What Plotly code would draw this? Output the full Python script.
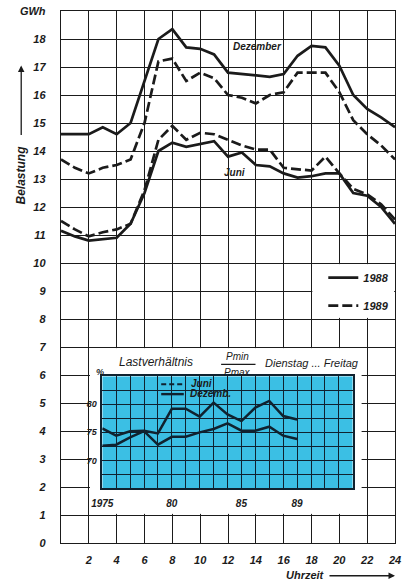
import plotly.graph_objects as go

# ---------------- data ----------------
hours = list(range(0, 25))
dez_1988 = [14.6, 14.6, 14.6, 14.85, 14.6, 15.0, 16.5, 18.0, 18.35, 17.7, 17.65, 17.45, 16.8,
            16.75, 16.7, 16.65, 16.75, 17.4, 17.75, 17.7, 17.05, 16.0, 15.5, 15.2, 14.85]
dez_1989 = [13.7, 13.4, 13.2, 13.4, 13.5, 13.7, 15.0, 17.2, 17.3, 16.5, 16.8, 16.6, 16.0,
            15.9, 15.7, 16.0, 16.1, 16.8, 16.8, 16.8, 16.1, 15.1, 14.6, 14.2, 13.7]
juni_1988 = [11.15, 10.95, 10.8, 10.85, 10.9, 11.4, 12.5, 14.0, 14.3, 14.15, 14.25, 14.35, 13.8,
             13.95, 13.5, 13.45, 13.2, 13.05, 13.1, 13.2, 13.2, 12.5, 12.4, 12.0, 11.4]
juni_1989 = [11.5, 11.2, 10.95, 11.1, 11.2, 11.4, 12.6, 14.4, 14.9, 14.4, 14.65, 14.6, 14.4,
             14.2, 14.05, 14.05, 13.4, 13.35, 13.3, 13.8, 13.2, 12.65, 12.45, 12.1, 11.55]

x_tickvals = list(range(2, 25, 2))
x_ticktext = [str(v) for v in x_tickvals]
y_tickvals = list(range(0, 20))
y_ticktext = [str(v) for v in range(0, 19)] + ["GWh"]

years = list(range(1975, 1990))
ratio_dez = [75.7, 74.4, 75.2, 75.3, 74.8, 79.2, 79.2, 77.8, 80.3, 78.2, 77.0, 79.4, 80.6, 77.9, 77.3]
ratio_juni = [72.6, 72.8, 74.1, 75.2, 72.8, 74.2, 74.2, 75.0, 75.6, 76.6, 75.3, 75.3, 76.0, 74.4, 73.8]

inset_xvals = list(range(1975, 1994))
inset_xtext = ["1975" if v == 1975 else ("80" if v == 1980 else ("85" if v == 1985 else ("89" if v == 1989 else ""))) for v in inset_xvals]
inset_yvals = [65 + 2.5 * i for i in range(9)]
inset_ytext = ["70" if v == 70 else ("75" if v == 75 else ("80" if v == 80 else "")) for v in inset_yvals]

# ---------------- geometry helpers ----------------
W, H = 406, 581
ML, MR, MT, MB = 61, 5, 7, 38
PW = W - ML - MR
PH = H - MT - MB


def px(xp):
    return (xp - ML) / PW


def py(yp):
    return (H - MB - yp) / PH


INK = "#1b1b1b"
CYAN = "#3bbfe4"
IGRID = "#10222f"
FAM = "Liberation Sans"
TF = dict(family=FAM, size=11, color=INK, style="italic", weight="bold")

fig = go.Figure()

# main curves
fig.add_trace(go.Scatter(x=hours, y=dez_1988, mode="lines", name="1988", legendgroup="a",
                         line=dict(color=INK, width=2.7)))
fig.add_trace(go.Scatter(x=hours, y=dez_1989, mode="lines", name="1989", legendgroup="b",
                         line=dict(color=INK, width=2.7, dash="10px,4px")))
fig.add_trace(go.Scatter(x=hours, y=juni_1988, mode="lines", showlegend=False, legendgroup="a",
                         line=dict(color=INK, width=2.7)))
fig.add_trace(go.Scatter(x=hours, y=juni_1989, mode="lines", showlegend=False, legendgroup="b",
                         line=dict(color=INK, width=2.7, dash="10px,4px")))

# empty traces to create cover subplots
fig.add_trace(go.Scatter(x=[], y=[], xaxis="x2", yaxis="y2", showlegend=False, hoverinfo="skip"))
fig.add_trace(go.Scatter(x=[], y=[], xaxis="x4", yaxis="y4", showlegend=False, hoverinfo="skip"))

# inset curves
fig.add_trace(go.Scatter(x=years, y=ratio_juni, mode="lines", xaxis="x3", yaxis="y3", showlegend=False,
                         line=dict(color=IGRID, width=2.5)))
fig.add_trace(go.Scatter(x=years, y=ratio_dez, mode="lines", xaxis="x3", yaxis="y3", showlegend=False,
                         line=dict(color=IGRID, width=2.5)))

blank_axis = dict(showgrid=False, showticklabels=False, zeroline=False, showline=False,
                  ticks="", range=[0, 1], fixedrange=True)

fig.update_layout(
    width=W, height=H,
    margin=dict(l=ML, r=MR, t=MT, b=MB, pad=0),
    paper_bgcolor="white", plot_bgcolor="white",
    xaxis=dict(domain=[0, 1], range=[0, 24], tickvals=x_tickvals, ticktext=x_ticktext,
               showgrid=True, gridcolor=INK, gridwidth=1.1, zeroline=False,
               showline=True, mirror=True, linecolor=INK, linewidth=1.4,
               ticks="", ticklabelstandoff=7, ticklabeloverflow="allow", tickfont=TF),
    yaxis=dict(domain=[0, 1], range=[0, 19], tickvals=y_tickvals, ticktext=y_ticktext,
               showgrid=True, gridcolor=INK, gridwidth=1.1, zeroline=False,
               showline=True, mirror=True, linecolor=INK, linewidth=1.4,
               ticks="", ticklabelstandoff=12, ticklabeloverflow="allow", tickfont=TF),
    xaxis2=dict(domain=[px(90.5), px(367)], anchor="y2", **blank_axis),
    yaxis2=dict(domain=[1.04 / 19, 6.96 / 19], anchor="x2", **blank_axis),
    xaxis4=dict(domain=[18.06 / 24, 23.94 / 24], anchor="y4", **blank_axis),
    yaxis4=dict(domain=[8.04 / 19, 9.96 / 19], anchor="x4", **blank_axis),
    xaxis3=dict(domain=[px(103), px(358)], anchor="y3", range=[1975, 1993],
                tickvals=inset_xvals, ticktext=inset_xtext,
                showgrid=True, gridcolor=IGRID, gridwidth=1.4, zeroline=False,
                showline=True, mirror=True, linecolor=IGRID, linewidth=1.5,
                ticks="", ticklabelstandoff=5,
                tickfont=dict(family=FAM, size=10, color=INK, style="italic", weight="bold")),
    yaxis3=dict(domain=[py(488), py(375)], anchor="x3", range=[65, 85],
                tickvals=inset_yvals, ticktext=inset_ytext,
                showgrid=True, gridcolor=IGRID, gridwidth=1.4, zeroline=False,
                showline=True, mirror=True, linecolor=IGRID, linewidth=1.5,
                ticks="", ticklabelstandoff=2,
                tickfont=dict(family=FAM, size=9, color=INK, style="italic", weight="bold")),
    legend=dict(x=px(328), xanchor="left", y=py(261), yanchor="top",
                bgcolor="rgba(0,0,0,0)", traceorder="grouped", tracegroupgap=9,
                font=dict(family=FAM, size=11, color=INK, style="italic", weight="bold")),
    showlegend=True,
)

# cyan background of the inset
fig.add_shape(type="rect", xref="x3", yref="y3", x0=1975, x1=1993, y0=65, y1=85,
              fillcolor=CYAN, line_width=0, layer="below")

# fraction bar Pmin/Pmax
fig.add_shape(type="line", xref="paper", yref="paper", x0=px(224), x1=px(259), y0=py(363), y1=py(363),
              line=dict(color=INK, width=1.3), layer="above")
# inset legend keys
fig.add_shape(type="line", xref="paper", yref="paper", x0=px(163), x1=px(186), y0=py(383), y1=py(383),
              line=dict(color=IGRID, width=2, dash="5px,3px"), layer="above")
fig.add_shape(type="line", xref="paper", yref="paper", x0=px(163), x1=px(186), y0=py(393), y1=py(393),
              line=dict(color=IGRID, width=2.4), layer="above")

IT = dict(family=FAM, color=INK, style="italic")
ann = [
    dict(text="Dezember", xref="x", yref="y", x=14.1, y=17.73, font=dict(size=10, weight="bold", **IT)),
    dict(text="Juni", xref="x", yref="y", x=12.5, y=13.22, font=dict(size=10, weight="bold", **IT)),
    dict(text="Lastverhältnis", xref="paper", yref="paper", x=px(158), y=py(361), font=dict(size=12, **IT)),
    dict(text="Pmin", xref="paper", yref="paper", x=px(241), y=py(355), font=dict(size=10, **IT)),
    dict(text="Pmax", xref="paper", yref="paper", x=px(241), y=py(371), font=dict(size=10, **IT)),
    dict(text="Dienstag ... Freitag", xref="paper", yref="paper", x=px(316), y=py(362), font=dict(size=11, **IT)),
    dict(text="%", xref="paper", yref="paper", x=px(101), y=py(371), font=dict(size=9, weight="bold", **IT)),
    dict(text="Juni", xref="paper", yref="paper", x=px(191), y=py(382), xanchor="left",
         font=dict(size=10, weight="bold", **IT)),
    dict(text="Dezemb.", xref="paper", yref="paper", x=px(190), y=py(392), xanchor="left",
         font=dict(size=10, weight="bold", **IT)),
    dict(text="Belastung", xref="paper", yref="paper", x=px(20), y=py(172), textangle=-90,
         font=dict(size=12, weight="bold", **IT)),
    dict(text="Uhrzeit", xref="paper", yref="paper", x=px(310), y=py(575), font=dict(size=11, weight="bold", **IT)),
]
for a in ann:
    a.setdefault("showarrow", False)
    a.setdefault("xanchor", "center")
    a.setdefault("yanchor", "middle")
    fig.add_annotation(**a)

# arrows
fig.add_annotation(text="", xref="paper", yref="paper", x=px(20.5), y=py(62), ax=0, ay=71,
                   showarrow=True, arrowhead=2, arrowsize=1, arrowwidth=1.3, arrowcolor=INK)
fig.add_annotation(text="", xref="paper", yref="paper", x=px(401), y=py(576), ax=-67, ay=0,
                   showarrow=True, arrowhead=2, arrowsize=1, arrowwidth=1.3, arrowcolor=INK)

fig.write_html("out.html", config={"displayModeBar": False},
               post_script="document.body.style.margin='0';document.body.style.overflow='hidden';")
